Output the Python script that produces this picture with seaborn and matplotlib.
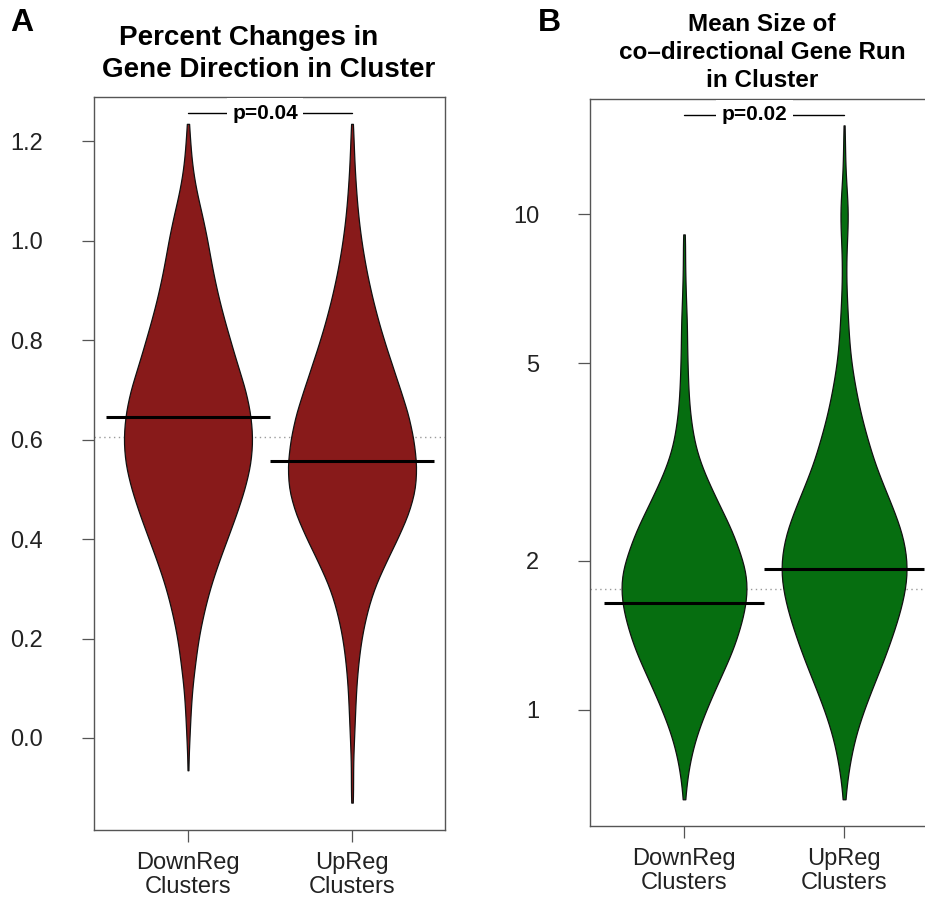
import numpy as np
import pandas as pd
import matplotlib
matplotlib.use("Agg")
import matplotlib.pyplot as plt
import matplotlib.transforms as mtransforms
from matplotlib.ticker import FixedLocator, NullLocator, FormatStrFormatter
import seaborn as sns

groups = ["DownReg\nClusters", "UpReg\nClusters"]

# Panel A - percent changes in gene direction (bean profiles)
pct_down_vals = [-0.065, 0.0, 0.05, 0.10, 0.15, 0.20, 0.25, 0.30, 0.35, 0.40, 0.45, 0.50, 0.55,
                 0.60, 0.65, 0.70, 0.75, 0.80, 0.85, 0.90, 0.95, 1.00, 1.05, 1.10, 1.15, 1.20, 1.235]
pct_down_n = [1, 3, 5, 8, 14, 20, 30, 42, 58, 76, 94, 110, 122,
              126, 122, 112, 96, 82, 68, 56, 46, 38, 28, 16, 8, 4, 1]
pct_up_vals = [-0.13, -0.10, -0.05, 0.0, 0.05, 0.10, 0.15, 0.20, 0.25, 0.30, 0.35, 0.40, 0.45, 0.50,
               0.55, 0.60, 0.65, 0.70, 0.75, 0.80, 0.85, 0.90, 0.95, 1.00, 1.05, 1.10, 1.15, 1.20, 1.235]
pct_up_n = [1, 2, 2, 4, 6, 8, 12, 18, 28, 42, 64, 88, 110, 124,
            126, 120, 110, 94, 78, 62, 48, 36, 26, 18, 12, 8, 5, 3, 1]
pct_means = [0.645, 0.556]
pct_overall = 0.606

# Panel B - mean size of co-directional gene run (log scale)
run_down_vals = [0.66, 0.724, 0.794, 0.87, 0.955, 1.047, 1.148, 1.259, 1.38, 1.514, 1.66, 1.82, 1.995,
                 2.19, 2.40, 2.63, 2.88, 3.16, 3.47, 3.80, 4.17, 4.57, 5.01, 5.50, 6.03, 6.61, 7.24,
                 7.94, 8.71, 9.1]
run_down_n = [2, 6, 12, 22, 36, 52, 70, 88, 104, 116, 124, 126, 118,
              104, 86, 66, 48, 32, 20, 14, 10, 8, 7, 6, 6, 4, 3,
              2, 2, 1]
run_up_vals = [0.66, 0.724, 0.794, 0.87, 0.955, 1.047, 1.148, 1.259, 1.38, 1.514, 1.66, 1.82, 1.995,
               2.19, 2.40, 2.63, 2.88, 3.16, 3.47, 3.80, 4.17, 4.57, 5.01, 5.50, 6.03, 6.61, 7.24,
               7.94, 8.71, 9.55, 10.47, 11.48, 12.59, 13.8, 15.1]
run_up_n = [2, 6, 12, 20, 32, 46, 62, 78, 92, 106, 116, 124, 126,
            120, 106, 90, 74, 60, 48, 36, 28, 20, 14, 10, 8, 6, 4,
            4, 5, 8, 8, 4, 2, 2, 1]
run_means = [1.64, 1.92]
run_overall = 1.75

pct_ticks = [0.0, 0.2, 0.4, 0.6, 0.8, 1.0, 1.2]
run_ticks = [1, 2, 5, 10]


def long_df(vals_a, n_a, vals_b, n_b):
    return pd.DataFrame({
        "group": [groups[0]] * sum(n_a) + [groups[1]] * sum(n_b),
        "value": np.concatenate([np.repeat(vals_a, n_a), np.repeat(vals_b, n_b)]),
    })


pct_df = long_df(pct_down_vals, pct_down_n, pct_up_vals, pct_up_n)
run_df = long_df(run_down_vals, run_down_n, run_up_vals, run_up_n)

sns.set_theme(style="white")
plt.rcParams["font.family"] = ["Liberation Sans", "DejaVu Sans"]

fig = plt.figure(figsize=(9.25, 8.99), dpi=100)
ax1 = fig.add_axes([0.1016, 0.0768, 0.3795, 0.8153])
ax2 = fig.add_axes([0.6378, 0.0812, 0.3751, 0.8087])

ax2.set_yscale("log")


def bean(ax, df, color, means, overall, bw):
    sns.violinplot(data=df, x="group", y="value", order=groups, ax=ax, color=color,
                   saturation=1, inner=None, cut=0, width=0.78, density_norm="width",
                   bw_adjust=bw, linewidth=0.9, linecolor="#111111")
    ax.axhline(overall, color="#9a9a9a", lw=1.0, ls=(0, (1, 2.5)), zorder=0)
    ax.hlines(means, [p - 0.5 for p in range(2)], [p + 0.5 for p in range(2)],
              color="black", lw=2.2, zorder=5)
    ax.set_xlabel("")
    ax.set_ylabel("")
    for s in ax.spines.values():
        s.set_color("#555555")
        s.set_linewidth(1.0)
    ax.tick_params(axis="y", length=8.6, width=0.9, color="#555555", pad=28,
                   labelsize=17, labelcolor="#222222", left=True)
    ax.tick_params(axis="x", length=8.6, width=0.9, color="#555555", pad=7,
                   labelsize=17, labelcolor="#222222", bottom=True)
    for lab in ax.get_xticklabels():
        lab.set_linespacing(1.15)


bean(ax1, pct_df, "#881a1a", pct_means, pct_overall, 0.65)
bean(ax2, run_df, "#066e10", run_means, run_overall, 0.75)

ax1.set_xlim(-0.573, 1.567)
ax1.set_ylim(-0.185, 1.289)
ax1.yaxis.set_major_locator(FixedLocator(pct_ticks))
ax1.yaxis.set_major_formatter(FormatStrFormatter("%.1f"))

ax2.set_xlim(-0.5875, 1.58)
ax2.set_ylim(0.583, 17.07)
ax2.yaxis.set_major_locator(FixedLocator(run_ticks))
ax2.yaxis.set_major_formatter(FormatStrFormatter("%g"))
ax2.yaxis.set_minor_locator(NullLocator())


def pval(ax, label, xc):
    tr = mtransforms.blended_transform_factory(ax.transData, ax.transAxes)
    ax.plot([0, 1], [0.978, 0.978], color="black", lw=1.0, transform=tr, zorder=6,
            clip_on=False)
    ax.text(xc, 0.978, label, transform=tr, ha="center", va="center", fontsize=15,
            fontweight="bold", color="black", zorder=7,
            bbox=dict(boxstyle="square,pad=0.25", fc="white", ec="none"))


pval(ax1, "p=0.04", 0.47)
pval(ax2, "p=0.02", 0.44)

# titles
fig.text(0.269, 0.958, "Percent Changes in", ha="center", va="center", fontsize=20,
         fontweight="bold", color="black")
fig.text(0.290, 0.922, "Gene Direction in Cluster", ha="center", va="center", fontsize=20,
         fontweight="bold", color="black")
for y, line in zip([0.973, 0.942, 0.910], ["Mean Size of", "co–directional Gene Run", "in Cluster"]):
    fig.text(0.824, y, line, ha="center", va="center", fontsize=17.5, fontweight="bold",
             color="black")

fig.text(0.011, 0.974, "A", ha="left", va="center", fontsize=23, fontweight="bold", color="black")
fig.text(0.581, 0.974, "B", ha="left", va="center", fontsize=23, fontweight="bold", color="black")

fig.savefig("out.png", dpi=100, facecolor="white")
